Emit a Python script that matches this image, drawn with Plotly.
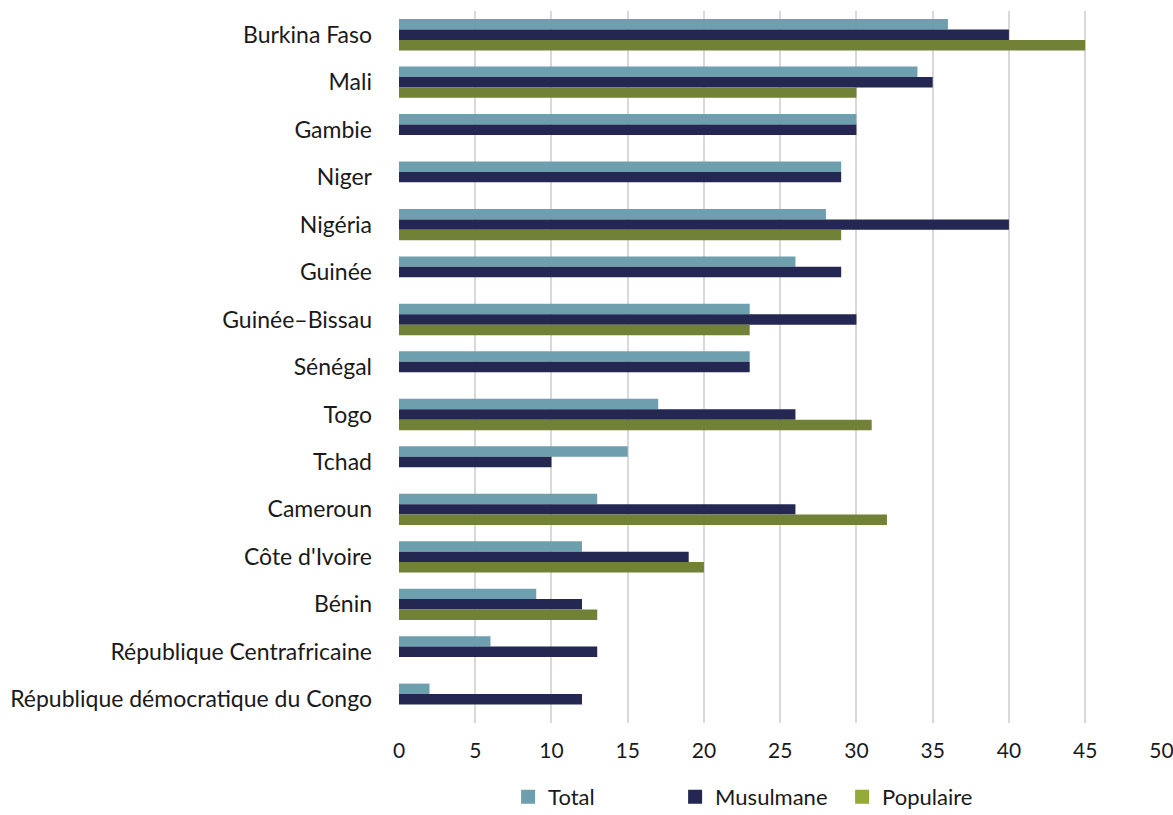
import plotly.graph_objects as go

pays = [
    "Burkina Faso", "Mali", "Gambie", "Niger", "Nigéria", "Guinée",
    "Guinée–Bissau", "Sénégal", "Togo", "Tchad", "Cameroun",
    "Côte d'Ivoire", "Bénin", "République Centrafricaine",
    "République démocratique du Congo",
]
total = [36, 34, 30, 29, 28, 26, 23, 23, 17, 15, 13, 12, 9, 6, 2]
musulmane = [40, 35, 30, 29, 40, 29, 30, 23, 26, 10, 26, 19, 12, 13, 12]
populaire = [45, 30, None, None, 29, None, 23, None, 31, None, 32, 20, 13, None, None]
x_ticks = [0, 5, 10, 15, 20, 25, 30, 35, 40, 45, 50]

FONT = "Lato"
TXT = "#1a1a1a"
series = [
    # name, values, bar colour, legend swatch colour
    ("Total", total, "#6E9FAE", "#6E9FAE"),
    ("Musulmane", musulmane, "#232751", "#232751"),
    ("Populaire", populaire, "#718136", "#95AB38"),
]

fig = go.Figure()
for name, vals, bar_col, leg_col in series:
    fig.add_trace(go.Bar(y=pays, x=vals, orientation="h", name=name,
                         offsetgroup=name, showlegend=False,
                         marker=dict(color=bar_col, line=dict(width=0))))
for name, vals, bar_col, leg_col in series:
    # legend swatch (no bars drawn)
    fig.add_trace(go.Bar(y=[pays[0]], x=[None], orientation="h", name=name,
                         offsetgroup=name, hoverinfo="skip",
                         marker=dict(color=leg_col,
                                     line=dict(width=2, color=leg_col))))

fig.update_layout(
    width=1173, height=815,
    margin=dict(l=399, r=11, t=11, b=92, autoexpand=False),
    paper_bgcolor="white", plot_bgcolor="white",
    barmode="group", bargap=0.34, bargroupgap=0,
    font=dict(family=FONT, size=21, color=TXT),
    showlegend=True,
    legend=dict(orientation="h", x=0.143, xanchor="left", y=-0.104, yanchor="middle",
                entrywidth=122, entrywidthmode="pixels",
                font=dict(family=FONT, size=22, color=TXT),
                traceorder="normal", itemsizing="constant"),
)
fig.update_xaxes(range=[0, 50.04], tickvals=x_ticks, showgrid=True,
                 gridcolor="#d9d9d9", gridwidth=1.5, zeroline=False,
                 showline=False, ticks="", ticklabelstandoff=13,
                 ticklabeloverflow="allow",
                 tickfont=dict(family=FONT, size=21, color=TXT))
fig.update_yaxes(autorange="reversed", showgrid=False, zeroline=False,
                 showline=False, ticks="", ticklabelstandoff=26,
                 tickfont=dict(family=FONT, size=23, color=TXT))

fig.write_html("out.html")
